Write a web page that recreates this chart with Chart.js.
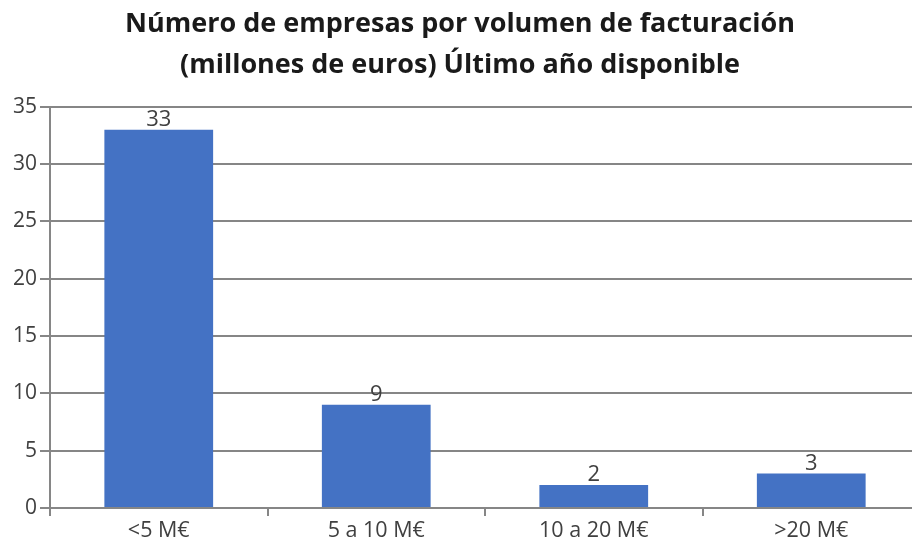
<!DOCTYPE html>
<html>
<head>
<meta charset="utf-8">
<script src="https://cdn.jsdelivr.net/npm/chart.js@4"></script>
<style>
  html, body { margin:0; padding:0; background:#fff; overflow:hidden; }
  #wrap { width:920px; height:550px; }
</style>
</head>
<body>
<div id="wrap"><canvas id="c" width="920" height="550"></canvas></div>
<script>
// datos
const categorias = ['<5 M€', '5 a 10 M€', '10 a 20 M€', '>20 M€'];
const empresas = [33, 9, 2, 3];
const yTicks = [0, 5, 10, 15, 20, 25, 30, 35];
const titulo = ['Número de empresas por volumen de facturación', '(millones de euros) Último año disponible'];

const gris = '#868686', texto = '#404040';

// etiquetas encima de las barras
const etiquetas = {
  id: 'etiquetas',
  afterDatasetsDraw(chart){
    const ctx = chart.ctx, meta = chart.getDatasetMeta(0);
    ctx.save();
    ctx.font = '22px "Open Sans", sans-serif';
    ctx.fillStyle = texto; ctx.textAlign = 'center'; ctx.textBaseline = 'bottom';
    meta.data.forEach((b,i)=>ctx.fillText(String(empresas[i]), b.x, b.y + 1));
    ctx.restore();
  }
};

new Chart(document.getElementById('c'), {
  type: 'bar',
  data: { labels: categorias, datasets: [{ data: empresas, backgroundColor: '#4472C4', borderWidth: 0,
    barPercentage: 0.5, categoryPercentage: 1 }] },
  options: {
    responsive: false, animation: false,
    layout: { padding: { top: 3, right: 0, left: 0, bottom: 0 } },
    plugins: {
      legend: { display: false }, tooltip: { enabled: false },
      title: { display: true, text: titulo, color: '#1a1a1a',
        font: { family: '"Open Sans", sans-serif', size: 27, weight: 'bold', lineHeight: 1.55 },
        padding: { top: 0, bottom: 20 } }
    },
    scales: {
      x: {
        grid: { offset: true, drawOnChartArea: false, drawTicks: true, tickLength: 8, color: gris, lineWidth: 2 },
        border: { color: gris, width: 2 },
        ticks: { color: texto, font: { family: '"Open Sans", sans-serif', size: 21.5 }, padding: 2 },
        afterFit(s){ s.height = 42; }
      },
      y: {
        min: 0, max: 35,
        afterBuildTicks(s){ s.ticks = yTicks.map(v=>({ value: v })); },
        grid: { color: gris, lineWidth: 2, tickLength: 10 },
        border: { color: gris, width: 2 },
        ticks: { color: texto, font: { family: '"Open Sans", sans-serif', size: 21 }, padding: 3 },
        afterFit(s){ s.width = 50; }
      }
    }
  },
  plugins: [etiquetas]
});
</script>
</body>
</html>
